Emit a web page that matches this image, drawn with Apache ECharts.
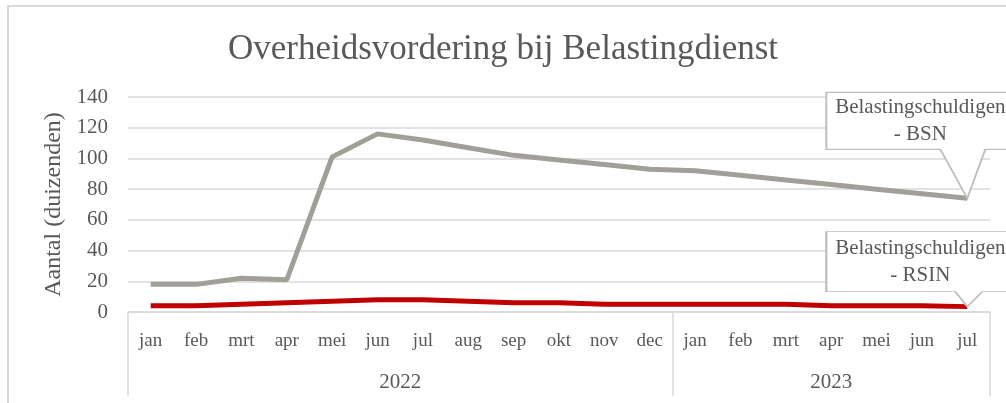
<!DOCTYPE html>
<html>
<head>
<meta charset="utf-8">
<title>Overheidsvordering bij Belastingdienst</title>
<script src="https://cdn.jsdelivr.net/npm/echarts@6/dist/echarts.min.js"></script>
<style>
    html, body { margin: 0; padding: 0; background: #fff; }
    #chart { width: 1006px; height: 403px; }
</style>
</head>
<body>
<div id="chart"></div>
<script>
// maanden (categorie-as), jaren met aantal maanden per jaar
var maanden = ['jan', 'feb', 'mrt', 'apr', 'mei', 'jun', 'jul', 'aug', 'sep', 'okt', 'nov', 'dec',
               'jan', 'feb', 'mrt', 'apr', 'mei', 'jun', 'jul'];
var jaren = ['2022', '2023'];
var maandenPerJaar = [12, 7];

// aantallen in duizenden
var bsn = [18, 18, 22, 21, 101, 116, 112, 107, 102, 99, 96, 93, 92, 89, 86, 83, 80, 77, 74];
var rsin = [4, 4, 5, 6, 7, 8, 8, 7, 6, 6, 5, 5, 5, 5, 5, 4, 4, 4, 3.5];

var yMin = 0, yMax = 140, yStap = 20;

var tekstKleur = '#595959';
var lijnKleur = '#d9d9d9';
var font = '"Liberation Serif", "DejaVu Serif", serif';

// positie van het jaarlabel = midden van zijn maanden
var jaarPos = {};
var start = 0;
for (var i = 0; i < jaren.length; i++) {
    jaarPos[start + maandenPerJaar[i] / 2] = jaren[i];
    start += maandenPerJaar[i];
}
// grens tussen de jaren (voor de verticale lijnen)
var jaarGrens = {0: true};
start = 0;
for (var j = 0; j < maandenPerJaar.length - 1; j++) {
    start += maandenPerJaar[j];
    jaarGrens[start] = true;
}

var chart = echarts.init(document.getElementById('chart'));

// callout: kader met een punt naar het laatste datapunt
function callout(naam, waarde, boxTop, boxBottom, punt) {
    var l = -141, r = 47;
    var pad = 'path://M' + l + ' ' + boxTop + ' L' + r + ' ' + boxTop + ' L' + r + ' ' + boxBottom +
        ' L' + punt[1] + ' ' + boxBottom + ' L0 0 L' + punt[0] + ' ' + boxBottom +
        ' L' + l + ' ' + boxBottom + ' Z';
    var h = -boxTop;
    return {
        symbol: pad,
        symbolSize: [r - l, h],
        symbolKeepAspect: false,
        symbolOffset: [(l + r) / 2, -h / 2],
        itemStyle: { color: '#fff', borderColor: '#bfbfbf', borderWidth: 1.5 },
        label: {
            show: true,
            position: 'inside',
            offset: [0, (boxTop + boxBottom) / 2 + h / 2],
            formatter: 'Belastingschuldigen\n- ' + naam,
            color: tekstKleur,
            fontFamily: font,
            fontSize: 21,
            lineHeight: 27,
            align: 'center'
        },
        data: [{ coord: [maanden.length - 1, waarde] }]
    };
}

var option = {
    animation: false,
    backgroundColor: '#fff',
    title: {
        text: 'Overheidsvordering bij Belastingdienst',
        left: 'center',
        top: 27,
        textStyle: { color: tekstKleur, fontFamily: font, fontSize: 35, fontWeight: 'normal' }
    },
    graphic: [{
        type: 'rect',
        shape: { x: 8, y: 6, width: 1200, height: 600 },
        style: { fill: 'none', stroke: lijnKleur, lineWidth: 2 },
        silent: true
    }],
    grid: { left: 128, right: 16, top: 97, bottom: 91 },
    xAxis: [{
        type: 'category',
        data: maanden,
        boundaryGap: true,
        axisLine: { show: true, lineStyle: { color: lijnKleur, width: 1.5 } },
        axisTick: {
            show: true,
            length: 84,
            interval: function (index) { return !!jaarGrens[index]; },
            lineStyle: { color: lijnKleur, width: 1.5 }
        },
        axisLabel: { interval: 0, margin: 20, color: tekstKleur, fontFamily: font, fontSize: 19 }
    }, {
        type: 'value',
        min: 0,
        max: maanden.length,
        interval: 0.5,
        position: 'bottom',
        offset: 40,
        axisLine: { show: false },
        axisTick: { show: false },
        splitLine: { show: false },
        axisLabel: {
            margin: 20,
            color: tekstKleur,
            fontFamily: font,
            fontSize: 21,
            showMinLabel: true,
            showMaxLabel: true,
            formatter: function (v) { return jaarPos[v] || ''; }
        }
    }],
    yAxis: {
        type: 'value',
        min: yMin,
        max: yMax,
        interval: yStap,
        name: 'Aantal (duizenden)',
        nameLocation: 'middle',
        nameGap: 58,
        nameTextStyle: { color: tekstKleur, fontFamily: font, fontSize: 24 },
        axisLine: { show: false },
        axisTick: { show: false },
        axisLabel: { margin: 20, color: tekstKleur, fontFamily: font, fontSize: 21 },
        splitLine: { lineStyle: { color: lijnKleur, width: 1.5 } }
    },
    series: [{
        name: 'Belastingschuldigen - BSN',
        type: 'line',
        data: bsn,
        symbol: 'none',
        lineStyle: { color: '#a19f97', width: 5 },
        markPoint: callout('BSN', bsn[bsn.length - 1], -106, -49, [-27, 18])
    }, {
        name: 'Belastingschuldigen - RSIN',
        type: 'line',
        data: rsin,
        symbol: 'none',
        lineStyle: { color: '#c00000', width: 5 },
        markPoint: callout('RSIN', rsin[rsin.length - 1], -75, -15, [-12, 15])
    }]
};

chart.setOption(option);
</script>
</body>
</html>
